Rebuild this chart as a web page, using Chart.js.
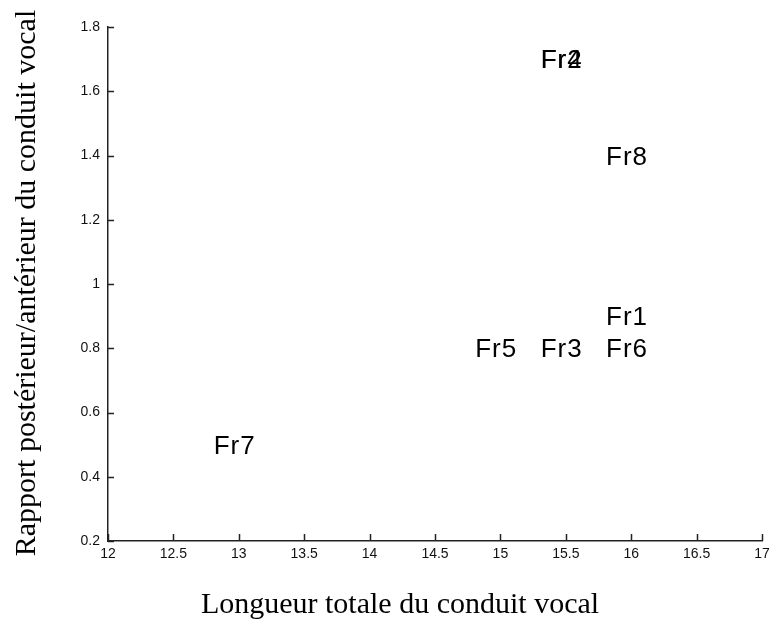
<!DOCTYPE html>
<html>
<head>
<meta charset="utf-8">
<script src="https://cdn.jsdelivr.net/npm/chart.js@4.4.1/dist/chart.umd.min.js"></script>
<style>
  body { margin: 0; background: #fff; }
  canvas { display: block; }
</style>
</head>
<body>
<canvas id="chart" width="770" height="619"></canvas>
<script>
// Speaker labels and their measurements
const speakers = ["Fr1", "Fr2", "Fr3", "Fr4", "Fr5", "Fr6", "Fr7", "Fr8"];
const totalLength = [15.8, 15.3, 15.3, 15.3, 14.8, 15.8, 12.8, 15.8];
const backFrontRatio = [0.9, 1.7, 0.8, 1.7, 0.8, 0.8, 0.5, 1.4];

const xTitle = "Longueur totale du conduit vocal";
const yTitle = "Rapport postérieur/antérieur du conduit vocal";

const axisColor = "#222";

// Text labels written at each point (like MATLAB text())
const pointLabels = {
  id: "pointLabels",
  afterDatasetsDraw(chart) {
    const ctx = chart.ctx;
    const meta = chart.getDatasetMeta(0);
    ctx.save();
    ctx.font = "26px 'Liberation Sans', Arial, sans-serif";
    ctx.letterSpacing = "1px";
    ctx.fillStyle = "#000";
    ctx.textAlign = "left";
    ctx.textBaseline = "alphabetic";
    meta.data.forEach((pt, i) => {
      ctx.fillText(speakers[i], pt.x + 1, pt.y + 9);
    });
    ctx.restore();
  },
};

// Ticks pointing inward and the axis titles
const axisExtras = {
  id: "axisExtras",
  afterDraw(chart) {
    const ctx = chart.ctx;
    const { x, y } = chart.scales;
    ctx.save();
    ctx.strokeStyle = axisColor;
    ctx.lineWidth = 1.5;
    ctx.beginPath();
    x.ticks.forEach((t) => {
      const px = Math.round(x.getPixelForValue(t.value)) + 0.5;
      ctx.moveTo(px, y.bottom);
      ctx.lineTo(px, y.bottom - 7);
    });
    y.ticks.forEach((t) => {
      const py = Math.round(y.getPixelForValue(t.value)) + 0.5;
      ctx.moveTo(x.left, py);
      ctx.lineTo(x.left + 6, py);
    });
    ctx.stroke();

    ctx.fillStyle = "#000";
    ctx.font = "30px 'Liberation Serif', 'Times New Roman', serif";
    ctx.textAlign = "center";
    ctx.textBaseline = "alphabetic";
    ctx.fillText(xTitle, 400, 613);

    ctx.translate(35, 283);
    ctx.rotate(-Math.PI / 2);
    ctx.fillText(yTitle, 0, 0);
    ctx.restore();
  },
};

new Chart(document.getElementById("chart"), {
  type: "scatter",
  data: {
    datasets: [
      {
        data: totalLength.map((v, i) => ({ x: v, y: backFrontRatio[i] })),
        pointRadius: 0,
        pointHoverRadius: 0,
      },
    ],
  },
  options: {
    responsive: false,
    animation: false,
    events: [],
    layout: {
      padding: { top: 27, right: 8, left: 0, bottom: 0 },
    },
    plugins: {
      legend: { display: false },
      tooltip: { enabled: false },
    },
    scales: {
      x: {
        type: "linear",
        min: 12,
        max: 17,
        afterFit(scale) {
          scale.height = 78;
          scale.paddingLeft = 0;
          scale.paddingRight = 0;
        },
        grid: { display: false, drawTicks: false },
        border: { display: true, color: axisColor, width: 1.5 },
        ticks: {
          stepSize: 0.5,
          padding: 5,
          color: "#111",
          font: { family: "'Liberation Sans', Arial, sans-serif", size: 14 },
          maxRotation: 0,
          callback: (v) => String(+v.toFixed(1)),
        },
      },
      y: {
        type: "linear",
        min: 0.2,
        max: 1.8,
        afterFit(scale) {
          scale.width = 108;
          scale.paddingTop = 0;
          scale.paddingBottom = 0;
        },
        grid: { display: false, drawTicks: false },
        border: { display: true, color: axisColor, width: 1.5 },
        ticks: {
          stepSize: 0.2,
          padding: 8,
          color: "#111",
          font: { family: "'Liberation Sans', Arial, sans-serif", size: 14 },
          callback: (v) => String(+v.toFixed(1)),
        },
      },
    },
  },
  plugins: [pointLabels, axisExtras],
});
</script>
</body>
</html>
